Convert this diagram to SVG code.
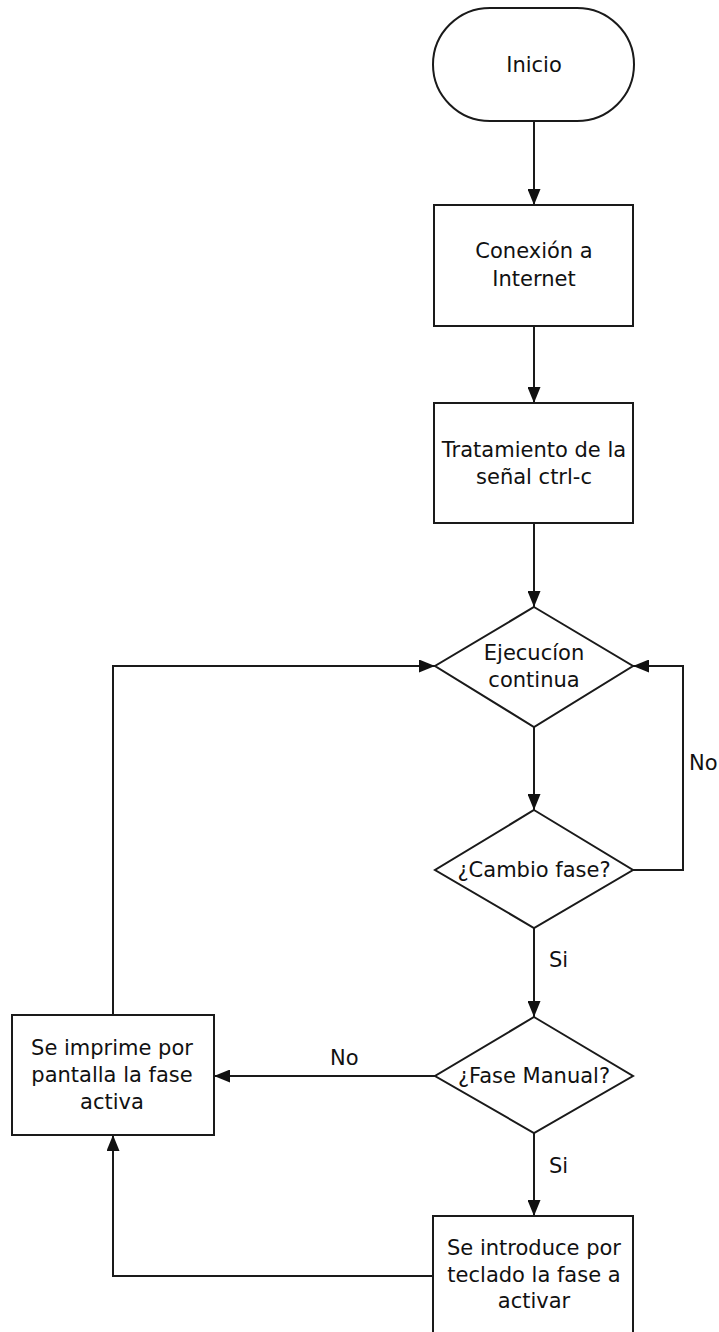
<svg xmlns="http://www.w3.org/2000/svg" width="719" height="1332" viewBox="0 0 719 1332">
<style>
.shape{fill:#fff;stroke:#1a1a1a;stroke-width:2}
.conn{fill:none;stroke:#1a1a1a;stroke-width:2}
text{font-family:"DejaVu Sans",Verdana,sans-serif;font-size:21px;fill:#111;text-anchor:middle}
.lbl{text-anchor:start}
</style>
<defs>
<marker id="arr" markerUnits="userSpaceOnUse" markerWidth="16" markerHeight="13" refX="16" refY="6.5" orient="auto">
<path d="M0,0 L16,6.5 L0,13 z" fill="#111"/>
</marker>
</defs>
<rect width="719" height="1332" fill="#fff"/>
<g id="connectors">
<path class="conn" d="M534,122 L534,205" marker-end="url(#arr)"/>
<path class="conn" d="M534,326 L534,403" marker-end="url(#arr)"/>
<path class="conn" d="M534,523 L534,607" marker-end="url(#arr)"/>
<path class="conn" d="M534,727 L534,810" marker-end="url(#arr)"/>
<path class="conn" d="M633,870 L683,870 L683,666 L633,666" marker-end="url(#arr)"/>
<path class="conn" d="M534,928 L534,1017" marker-end="url(#arr)"/>
<path class="conn" d="M435,1076 L214,1076" marker-end="url(#arr)"/>
<path class="conn" d="M534,1133 L534,1216" marker-end="url(#arr)"/>
<path class="conn" d="M433,1276 L113,1276 L113,1135" marker-end="url(#arr)"/>
<path class="conn" d="M113,1015 L113,666 L435,666" marker-end="url(#arr)"/>
<text class="lbl" x="689" y="770">No</text>
<text class="lbl" x="549" y="967">Si</text>
<text class="lbl" x="330" y="1065">No</text>
<text class="lbl" x="549" y="1173">Si</text>
</g>
<g id="inicio">
<rect class="shape" x="433" y="8" width="201" height="113" rx="57" ry="57"/>
<text x="534" y="72">Inicio</text>
</g>
<g id="conexion">
<rect class="shape" x="434" y="205" width="199" height="121"/>
<text x="534" y="258">Conexión a</text>
<text x="534" y="286">Internet</text>
</g>
<g id="tratamiento">
<rect class="shape" x="434" y="403" width="199" height="120"/>
<text x="534" y="457">Tratamiento de la</text>
<text x="534" y="484">señal ctrl-c</text>
</g>
<g id="ejecucion">
<polygon class="shape" points="534,607 633,666 534,727 435,666"/>
<text x="534" y="660">Ejecucíon</text>
<text x="534" y="687">continua</text>
</g>
<g id="cambio">
<polygon class="shape" points="534,810 633,870 534,928 435,870"/>
<text x="534" y="877">¿Cambio fase?</text>
</g>
<g id="manual">
<polygon class="shape" points="534,1017 633,1076 534,1133 435,1076"/>
<text x="534" y="1083">¿Fase Manual?</text>
</g>
<g id="imprime">
<rect class="shape" x="12" y="1015" width="202" height="120"/>
<text x="112" y="1055">Se imprime por</text>
<text x="112" y="1082">pantalla la fase</text>
<text x="112" y="1109">activa</text>
</g>
<g id="introduce">
<rect class="shape" x="433" y="1216" width="200" height="130"/>
<text x="534" y="1255">Se introduce por</text>
<text x="534" y="1282">teclado la fase a</text>
<text x="534" y="1308">activar</text>
</g>
</svg>
